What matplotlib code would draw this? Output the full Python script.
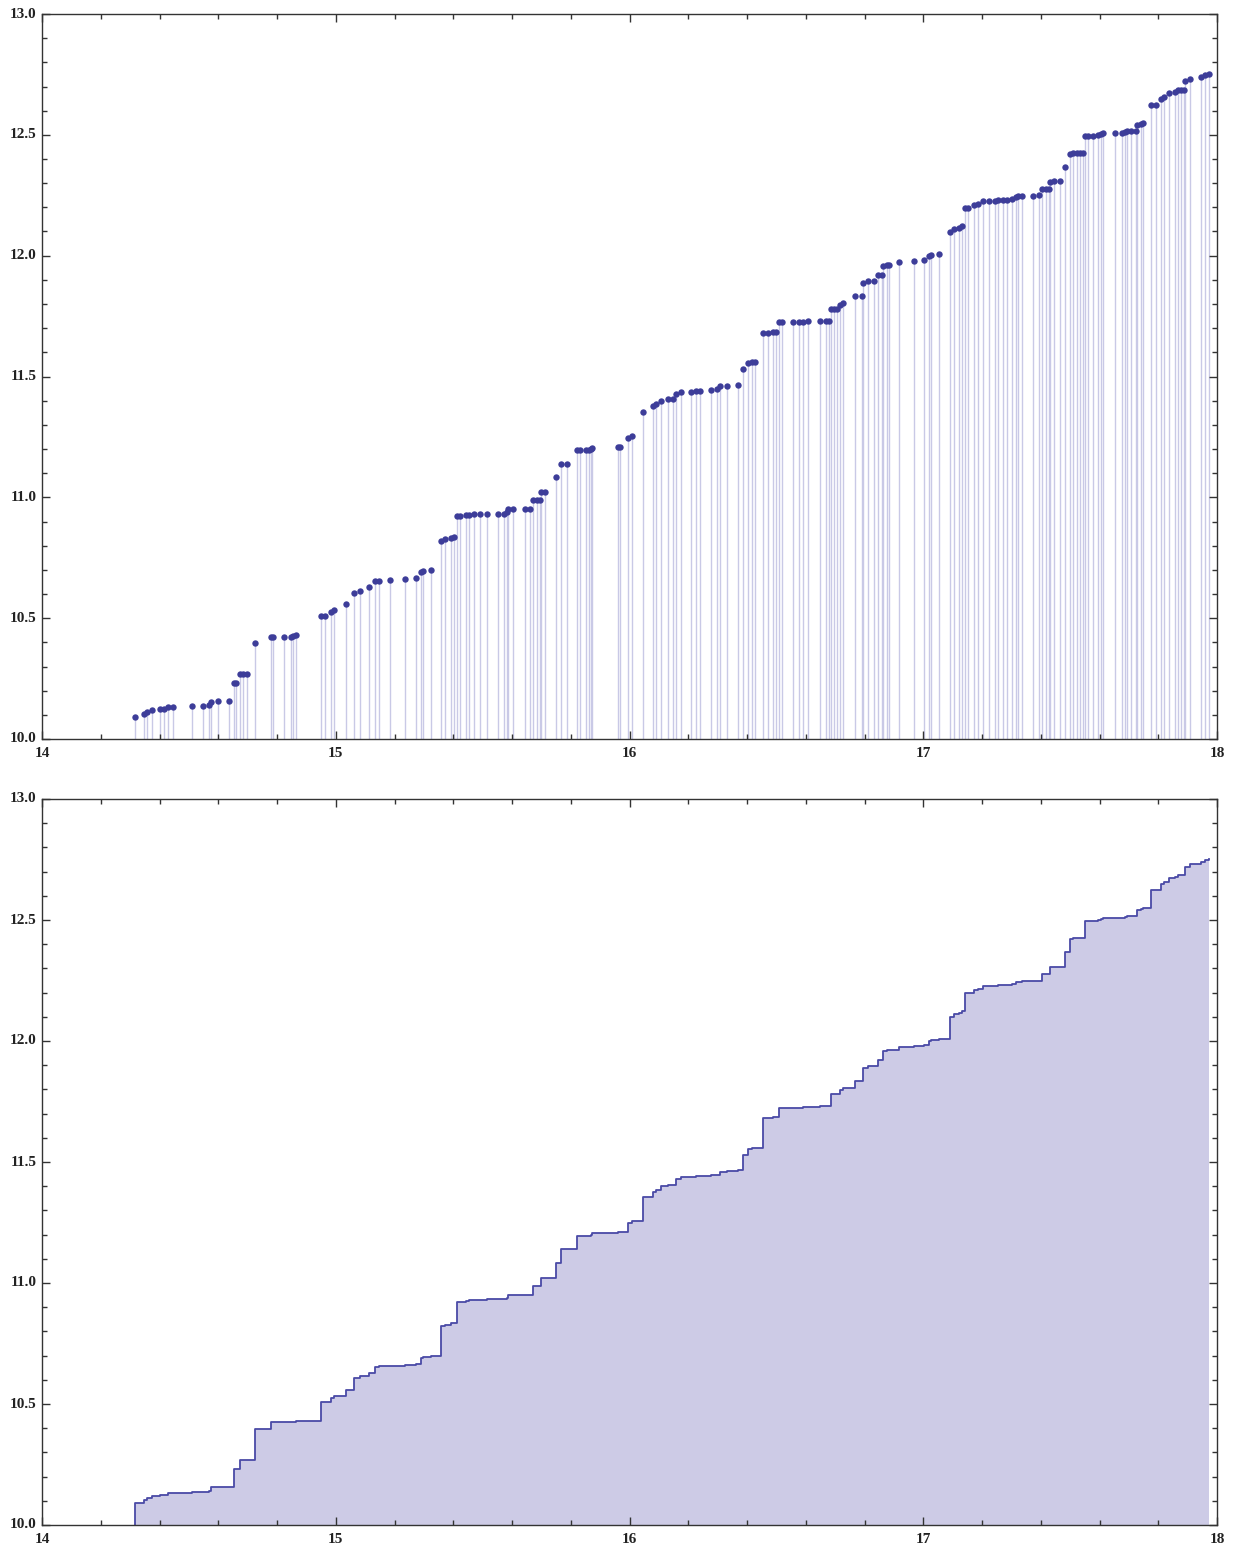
import numpy as np
import matplotlib.pyplot as plt
from matplotlib.ticker import MultipleLocator

# values (x position, cumulative level)
xs = [
    14.316, 14.348, 14.357, 14.376, 14.402, 14.416, 14.429, 14.447, 14.509, 14.549,
    14.567, 14.575, 14.599, 14.638, 14.655, 14.662, 14.674, 14.685, 14.697, 14.724,
    14.778, 14.787, 14.825, 14.848, 14.856, 14.865, 14.949, 14.964, 14.984, 14.993,
    15.036, 15.062, 15.081, 15.114, 15.135, 15.146, 15.185, 15.236, 15.273, 15.289,
    15.298, 15.324, 15.358, 15.372, 15.391, 15.403, 15.412, 15.423, 15.443, 15.455,
    15.471, 15.491, 15.514, 15.553, 15.574, 15.582, 15.587, 15.604, 15.644, 15.661,
    15.673, 15.684, 15.695, 15.699, 15.712, 15.750, 15.768, 15.788, 15.822, 15.831,
    15.852, 15.863, 15.870, 15.873, 15.960, 15.968, 15.996, 16.010, 16.047, 16.079,
    16.089, 16.107, 16.131, 16.147, 16.159, 16.177, 16.210, 16.228, 16.240, 16.278,
    16.298, 16.307, 16.331, 16.368, 16.387, 16.404, 16.417, 16.427, 16.456, 16.470,
    16.487, 16.500, 16.508, 16.518, 16.558, 16.578, 16.592, 16.609, 16.649, 16.669,
    16.680, 16.685, 16.696, 16.707, 16.717, 16.728, 16.767, 16.791, 16.794, 16.813,
    16.832, 16.845, 16.858, 16.864, 16.875, 16.882, 16.917, 16.967, 17.002, 17.020,
    17.026, 17.055, 17.090, 17.104, 17.122, 17.133, 17.142, 17.154, 17.173, 17.185,
    17.204, 17.225, 17.244, 17.255, 17.272, 17.284, 17.303, 17.316, 17.321, 17.335,
    17.374, 17.394, 17.403, 17.417, 17.428, 17.432, 17.445, 17.466, 17.483, 17.500,
    17.511, 17.522, 17.534, 17.543, 17.551, 17.562, 17.579, 17.596, 17.605, 17.613,
    17.654, 17.675, 17.686, 17.695, 17.708, 17.723, 17.728, 17.740, 17.747, 17.777,
    17.792, 17.811, 17.820, 17.837, 17.857, 17.866, 17.877, 17.889, 17.891, 17.908,
    17.944, 17.958, 17.972,
]
ys = [
    10.090, 10.105, 10.112, 10.120, 10.124, 10.125, 10.131, 10.134, 10.137, 10.138,
    10.139, 10.155, 10.158, 10.159, 10.233, 10.233, 10.269, 10.269, 10.269, 10.396,
    10.424, 10.424, 10.424, 10.424, 10.426, 10.430, 10.508, 10.508, 10.525, 10.534,
    10.559, 10.606, 10.614, 10.630, 10.654, 10.655, 10.659, 10.663, 10.667, 10.692,
    10.695, 10.699, 10.821, 10.828, 10.833, 10.836, 10.923, 10.923, 10.927, 10.928,
    10.931, 10.931, 10.933, 10.933, 10.933, 10.940, 10.952, 10.952, 10.952, 10.952,
    10.987, 10.987, 10.988, 11.021, 11.021, 11.084, 11.140, 11.140, 11.194, 11.194,
    11.194, 11.195, 11.200, 11.205, 11.210, 11.210, 11.247, 11.255, 11.355, 11.378,
    11.386, 11.399, 11.407, 11.407, 11.428, 11.436, 11.437, 11.441, 11.442, 11.445,
    11.448, 11.459, 11.461, 11.465, 11.530, 11.554, 11.558, 11.558, 11.681, 11.681,
    11.684, 11.685, 11.724, 11.724, 11.724, 11.724, 11.726, 11.728, 11.730, 11.730,
    11.730, 11.781, 11.781, 11.781, 11.797, 11.805, 11.833, 11.833, 11.887, 11.896,
    11.896, 11.922, 11.922, 11.959, 11.961, 11.961, 11.974, 11.978, 11.982, 11.999,
    12.003, 12.007, 12.100, 12.111, 12.116, 12.123, 12.199, 12.199, 12.210, 12.214,
    12.226, 12.226, 12.228, 12.230, 12.232, 12.232, 12.234, 12.243, 12.245, 12.246,
    12.248, 12.250, 12.277, 12.277, 12.277, 12.305, 12.307, 12.307, 12.368, 12.422,
    12.425, 12.425, 12.425, 12.425, 12.496, 12.496, 12.496, 12.499, 12.505, 12.509,
    12.509, 12.509, 12.513, 12.517, 12.516, 12.516, 12.541, 12.546, 12.548, 12.625,
    12.625, 12.647, 12.657, 12.673, 12.677, 12.685, 12.685, 12.685, 12.721, 12.733,
    12.740, 12.749, 12.752,
]

xs = np.array(xs)
ys = np.array(ys)
base = 10.0

dot_color = '#3d3d99'
stem_color = '#c9c9e6'
fill_color = '#cdcbe6'
line_color = '#4a4aa6'

fig = plt.figure(figsize=(12.33, 15.49), dpi=100)
ax1 = fig.add_axes([42 / 1233, 1 - 739 / 1549, 1175 / 1233, 725 / 1549])
ax2 = fig.add_axes([42 / 1233, 1 - 1525 / 1549, 1175 / 1233, 726 / 1549])

# top: stems with dots
ax1.vlines(xs, base, ys, color=stem_color, linewidth=1.0, zorder=1)
ax1.plot(xs, ys, 'o', color=dot_color, markersize=4.6, markeredgewidth=0, zorder=2)

# bottom: filled step curve
ax2.fill_between(xs, base, ys, step='post', color=fill_color, linewidth=0, zorder=1)
ax2.plot(np.r_[xs[0], xs], np.r_[base, ys], drawstyle='steps-post',
         color=line_color, linewidth=1.3, zorder=2)

for ax in (ax1, ax2):
    ax.set_xlim(14, 18)
    ax.set_ylim(10, 13)
    ax.xaxis.set_major_locator(MultipleLocator(1))
    ax.xaxis.set_minor_locator(MultipleLocator(0.2))
    ax.yaxis.set_major_locator(MultipleLocator(0.5))
    ax.yaxis.set_minor_locator(MultipleLocator(0.1))
    ax.set_xticks([14, 15, 16, 17, 18])
    ax.set_xticklabels(['14', '15', '16', '17', '18'])
    ax.set_yticks([10.0, 10.5, 11.0, 11.5, 12.0, 12.5, 13.0])
    ax.set_yticklabels(['10.0', '10.5', '11.0', '11.5', '12.0', '12.5', '13.0'])
    ax.tick_params(which='both', direction='in', top=True, right=True,
                   width=1.0, color='#333333')
    ax.tick_params(which='major', length=6)
    ax.tick_params(which='minor', length=3.8)
    ax.tick_params(axis='x', pad=6)
    ax.tick_params(axis='y', pad=4)
    for lab in ax.get_xticklabels() + ax.get_yticklabels():
        lab.set_fontfamily('Liberation Serif')
        lab.set_fontsize(11)
        lab.set_fontweight('bold')
        lab.set_color('#222222')
    for sp in ax.spines.values():
        sp.set_linewidth(1.0)
        sp.set_color('#333333')
    ax.set_facecolor('white')

# x labels sit just right of the tick in the reference
for ax in (ax1, ax2):
    for lab in ax.get_xticklabels():
        lab.set_horizontalalignment('center')
    for lab in ax.get_yticklabels():
        lab.set_verticalalignment('center')

fig.savefig('out.png', dpi=100, facecolor='white')
